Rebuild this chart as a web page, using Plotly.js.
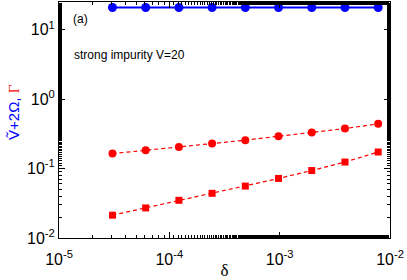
<!DOCTYPE html>
<html><head><meta charset="utf-8">
<script src="https://cdn.plot.ly/plotly-3.0.1.min.js"></script>
<style>html,body{margin:0;padding:0;background:#fff}#c{width:407px;height:280px}</style>
</head><body><div id="c"></div>
<script>
const delta = [3.052e-5, 6.104e-5, 1.221e-4, 2.441e-4, 4.883e-4, 9.766e-4, 1.953e-3, 3.906e-3, 7.8125e-3];
const vPlus2Omega = [20.8, 20.8, 20.8, 20.8, 20.8, 20.8, 20.8, 20.8, 20.8];
const gammaCircle = [0.164, 0.183, 0.204, 0.230, 0.256, 0.292, 0.330, 0.376, 0.44];
const gammaSquare = [0.0213, 0.0271, 0.0349, 0.044, 0.0559, 0.072, 0.0936, 0.124, 0.173];
const xTickVals = [1e-5, 1e-4, 1e-3, 1e-2];
const xTickText = ['10<sup>-5</sup>', '10<sup>-4</sup>', '10<sup>-3</sup>', '10<sup>-2</sup>'];
const yTickVals = [1e-2, 1e-1, 1, 10];
const yTickText = ['10<sup>-2</sup>', '10<sup>-1</sup>', '10<sup>0</sup>', '10<sup>1</sup>'];

const font = 'Liberation Sans, Arial, sans-serif';
const traces = [
  {x: delta, y: vPlus2Omega, mode: 'lines+markers', line: {color: '#0000ff', width: 2},
   marker: {symbol: 'circle', size: 9, color: '#0000ff'}},
  {x: delta, y: gammaCircle, mode: 'lines+markers', line: {color: '#ff0000', width: 1.2, dash: '4px,3px'},
   marker: {symbol: 'circle', size: 8, color: '#ff0000'}},
  {x: delta, y: gammaSquare, mode: 'lines+markers', line: {color: '#ff0000', width: 1.2, dash: '4px,3px'},
   marker: {symbol: 'square', size: 7, color: '#ff0000'}}
];
const axisCommon = {
  type: 'log', showgrid: false, zeroline: false, showline: true, linecolor: '#000', linewidth: 1,
  mirror: 'allticks', ticks: 'inside', ticklen: 6, tickcolor: '#000',
  tickfont: {family: font, size: 16, color: '#000'},
  minor: {ticks: 'inside', ticklen: 3, tickcolor: '#000', showgrid: false}
};
const layout = {
  width: 407, height: 280,
  margin: {l: 59, r: 17, t: 2, b: 42},
  paper_bgcolor: '#fff', plot_bgcolor: '#fff',
  showlegend: false,
  xaxis: Object.assign({}, axisCommon, {
    range: [-5, -2], tickvals: xTickVals, ticktext: xTickText, ticklabelstandoff: 7,
    title: {text: 'δ', font: {family: 'Liberation Serif, Times New Roman, serif', size: 17, color: '#000'}, standoff: 0}
  }),
  yaxis: Object.assign({}, axisCommon, {
    range: [-2, Math.log10(25)], tickvals: yTickVals, ticktext: yTickText
  }),
  annotations: [
    {xref: 'paper', yref: 'paper', x: -0.136, y: 0.534, xanchor: 'center', yanchor: 'middle', showarrow: false,
     textangle: -90,
     text: '<span style="color:#0000ff">V\u0303+2Ω,</span> <span style="color:#ff0000;font-family:Liberation Serif">Γ</span>',
     font: {family: font, size: 15, color: '#0000ff'}},
    {xref: 'paper', yref: 'paper', x: 0.035, y: 0.93, xanchor: 'left', yanchor: 'middle', showarrow: false,
     text: '(a)', font: {family: font, size: 12, color: '#000'}},
    {xref: 'paper', yref: 'paper', x: 0.04, y: 0.775, xanchor: 'left', yanchor: 'middle', showarrow: false,
     text: 'strong impurity V=20', font: {family: font, size: 12, color: '#000'}}
  ]
};
Plotly.newPlot('c', traces, layout, {staticPlot: true, displayModeBar: false});
</script></body></html>
